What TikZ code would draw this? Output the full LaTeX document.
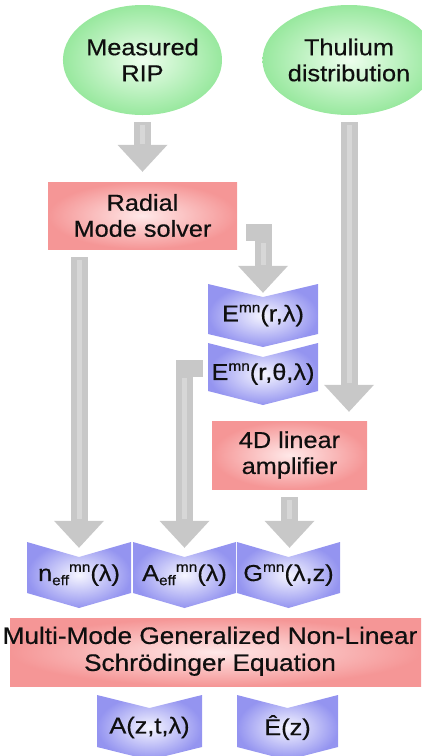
\documentclass[tikz,border=0pt]{standalone}
\usepackage{fontspec}
\setmainfont{Liberation Sans}[FakeStretch=1.1,FakeBold=0.5]
\usetikzlibrary{shapes.geometric,arrows.meta}
\definecolor{ellgreen}{RGB}{152,232,158}
\definecolor{ellgreenin}{RGB}{238,254,238}
\definecolor{boxpink}{RGB}{245,150,150}
\definecolor{boxpinkin}{RGB}{255,232,232}
\definecolor{chevblue}{RGB}{148,148,240}
\definecolor{chevbluein}{RGB}{246,246,255}
\definecolor{arrowgray}{RGB}{200,200,200}
\definecolor{txt}{RGB}{15,15,15}
\newcommand\supmn[1]{\raisebox{0.4em}{\fontsize{14}{14}\selectfont #1}}
\newcommand\subeff[1]{\raisebox{-0.18em}{\fontsize{14}{14}\selectfont #1}}
\newcommand\lowertwo[1]{\raisebox{-3pt}[\height][\depth]{\begin{tabular}{@{}c@{}}#1\end{tabular}}}
% #1 name, #2 cx, #3 cy, #4 w, #5 h, #6 notch depth, #7 text
\newcommand\chevron[7]{%
  \shade[inner color=chevbluein, outer color=chevblue]
    ({#2-#4/2},{#3-#5/2}) -- (#2,{#3-#5/2+#6}) -- ({#2+#4/2},{#3-#5/2})
    -- ({#2+#4/2},{#3+#5/2}) -- (#2,{#3+#5/2+#6}) -- ({#2-#4/2},{#3+#5/2}) -- cycle;
  \node[chevtext, minimum width=#4pt, minimum height=#5pt] (#1) at (#2,{#3+#6/2}) {#7};
}
\begin{document}
\begin{tikzpicture}[x=1pt,y=-1pt,
  font=\fontsize{23}{26}\selectfont, text=txt,
  ell/.style={ellipse, inner color=ellgreenin, outer color=ellgreen,
    minimum width=145pt, minimum height=110pt, align=center, inner sep=0pt},
  pbox/.style={rectangle, inner color=boxpinkin, outer color=boxpink,
    align=center, inner sep=0pt},
  chevtext/.style={rectangle, inner sep=0pt},
  fatarrow/.style={draw=arrowgray, line width=17pt, line join=miter,
    -{Triangle[width=50pt,length=27pt,line width=0pt]}},
  shine/.style={draw=white, line width=5pt, opacity=0.28}]
\useasboundingbox (0,0) rectangle (421,756);

% nodes
\node[ell] (mrip) at (142.5,60) {\lowertwo{Measured\\RIP}};
\node[ell, minimum width=144pt] (thul) at (349,60) {\lowertwo{Thulium\\distribution}};
\node[pbox, minimum width=189pt, minimum height=67pt] (radial) at (142.5,215.5) {Radial\\Mode solver};
\node[pbox, minimum width=155pt, minimum height=68pt] (amp) at (289.5,455) {4D linear\\amplifier};
\node[pbox, minimum width=411pt, minimum height=68pt, font=\fontsize{23.8}{27}\selectfont] (nlse) at (215.5,652)
  {\makebox[0pt]{\kern-11pt\begin{tabular}{@{}c@{}}Multi-Mode Generalized Non-Linear\\Schrödinger Equation\end{tabular}}};

\chevron{eR}{263}{309}{110}{50}{13}{E\supmn{mn}(r,λ)}
\chevron{eRT}{263}{367}{110}{48}{14}{E\supmn{mn}(r,θ,λ)}
\chevron{neff}{79}{567.5}{104}{51}{15}{n\subeff{eff}\supmn{mn}(λ)}
\chevron{aeff}{184.5}{567.5}{103}{51}{15}{A\subeff{eff}\supmn{mn}(λ)}
\chevron{gmn}{288.5}{567.5}{103}{51}{15}{G\supmn{mn}(λ,z)}
\chevron{azt}{149.5}{721}{105}{52}{13}{A(z,t,λ)}
\chevron{ehat}{287.5}{721}{101}{52}{13}{Ê(z)}

% connectors
\draw[fatarrow, shorten <=7pt, shorten >=10pt] (mrip.south) -- (radial.north);
\draw[shine, shorten <=10pt, shorten >=38pt] (mrip.south) -- (radial.north);

\draw[fatarrow, shorten <=7pt, shorten >=9pt] (thul.south) -- (thul.south |- amp.north);
\draw[shine, shorten <=10pt, shorten >=38pt] (thul.south) -- (thul.south |- amp.north);

\draw[fatarrow, shorten <=8pt, shorten >=1.5pt] (radial.south -| neff.north) -- (neff.north);
\draw[shine, shorten <=11pt, shorten >=30pt] (radial.south -| neff.north) -- (neff.north);

\draw[fatarrow] ([xshift=9pt,yshift=-17pt]radial.east) -| ([yshift=-2.5pt]eR.north);
\draw[shine, shorten <=10pt, shorten >=28pt] ([yshift=-17pt]radial.east -| eR.north) -- ([yshift=-2.5pt]eR.north);

\draw[fatarrow, shorten >=1.5pt] ([xshift=-5pt,yshift=6pt]eRT.west) -| (aeff.north);
\draw[shine, shorten <=10pt, shorten >=30pt] ([yshift=6pt]eRT.west -| aeff.north) -- (aeff.north);

\draw[fatarrow, shorten <=8pt, shorten >=1.5pt] (amp.south) -- (amp.south |- gmn.north);
\draw[shine, shorten <=11pt, shorten >=30pt] (amp.south) -- (amp.south |- gmn.north);
\end{tikzpicture}
\end{document}
